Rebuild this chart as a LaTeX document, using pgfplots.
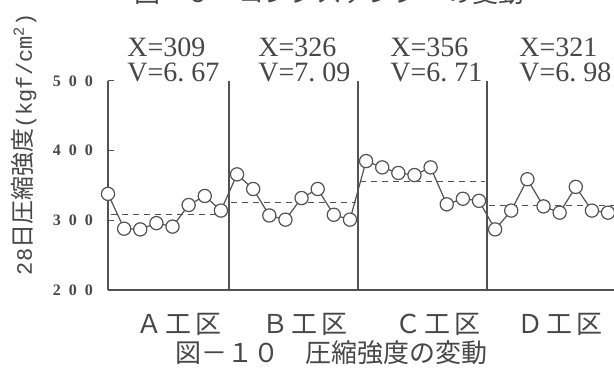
\documentclass[border=0pt]{standalone}
\usepackage{pgfplots}
\pgfplotsset{compat=1.18}
\usepackage{fontspec}
\setmainfont{Liberation Serif}
\newfontfamily\jp{Noto Sans CJK JP}
\newfontfamily\mono{Liberation Mono}
\definecolor{ink}{gray}{0.28}
\definecolor{pen}{gray}{0.32}

% 28-day compressive strength, 8 specimens per work section (A-D)
\pgfplotstableread{
x y
0  338
1  288
2  287
3  296
4  291
5  322
6  335
7  314
8  366
9  345
10 307
11 301
12 332
13 345
14 308
15 301
16 385
17 376
18 368
19 365
20 376
21 323
22 331
23 328
24 287
25 314
26 359
27 320
28 311
29 348
30 314
31 311
}\strength

\begin{document}
\begin{tikzpicture}
\path[use as bounding box] (0,0) rectangle (307pt,187pt);

\begin{axis}[
  at={(54pt,42pt)}, anchor=south west, scale only axis,
  width=253pt, height=104.5pt,
  xmin=0, xmax=31.37, ymin=200, ymax=500,
  axis x line*=bottom, axis y line*=left,
  axis line style={pen, line width=0.6pt, -},
  xtick=\empty,
  extra x ticks={7.5,15.5,23.5},
  extra x tick labels={},
  extra x tick style={grid=major, major grid style={pen, line width=0.6pt, solid}, major tick length=0pt},
  ytick={200,300,400,500},
  yticklabels={2\,\,\,0\,\,\,0, 3\,\,\,0\,\,\,0, 4\,\,\,0\,\,\,0, 5\,\,\,0\,\,\,0},
  tick align=inside, major tick length=3pt,
  tick style={pen, line width=0.5pt},
  yticklabel style={font=\fontsize{8}{8}\selectfont\bfseries, text=ink, xshift=-4pt},
  clip=false,
]
% section means
\addplot[pen, line width=0.5pt, dash pattern=on 3pt off 2.5pt] coordinates {(0.2,309) (7.4,309)};
\addplot[pen, line width=0.5pt, dash pattern=on 3pt off 2.5pt] coordinates {(7.6,326) (15.4,326)};
\addplot[pen, line width=0.5pt, dash pattern=on 3pt off 2.5pt] coordinates {(15.6,356) (23.4,356)};
\addplot[pen, line width=0.5pt, dash pattern=on 3pt off 2.5pt] coordinates {(23.6,321) (31.37,321)};
% individual results
\addplot[pen, line width=0.6pt, mark=*, mark size=3.3pt,
  mark options={fill=white, draw=pen, solid, line width=0.6pt}] table[x=x, y=y] {\strength};
\end{axis}

\begin{scope}[x=0.5pt, y=-0.5pt, shift={(0,187pt)}, text=ink]
  % statistics per section
  \foreach \xx/\mm/\vv in {127/309/6.\ 67, 258/326/7.\ 09, 390/356/6.\ 71, 519/321/6.\ 98}{
    \node[anchor=west, inner sep=0pt, text height=9.5pt, text depth=0pt, font=\fontsize{14}{14}\selectfont] at (\xx,47) {X=\mm};
    \node[anchor=west, inner sep=0pt, text height=9.5pt, text depth=0pt, font=\fontsize{14}{14}\selectfont] at (\xx,72) {V=\vv};
  }
  % section names
  \node[font=\jp\fontsize{13}{13}\selectfont] at (179,324) {Ａ\hspace{2pt}工\hspace{2pt}区};
  \node[font=\jp\fontsize{13}{13}\selectfont] at (305,324) {Ｂ\hspace{2pt}工\hspace{2pt}区};
  \node[font=\jp\fontsize{13}{13}\selectfont] at (438,324) {Ｃ\hspace{2pt}工\hspace{2pt}区};
  \node[font=\jp\fontsize{13}{13}\selectfont] at (560,324) {Ｄ\hspace{2pt}工\hspace{2pt}区};
  % captions
  \node[font=\jp\fontsize{13}{13}\selectfont] at (331,353) {図－１０　圧縮強度の変動};
  \node[font=\jp\fontsize{13}{13}\selectfont] at (329,-7) {図－９　コンシステンシーの変動};
  % vertical axis title
  \node[rotate=90, inner sep=0pt] at (24,144)
    {{\mono\fontsize{11}{11}\selectfont 28}{\jp\fontsize{12}{12}\selectfont 日圧縮強度}{\mono\fontsize{11}{11}\selectfont (kgf/cm\textsuperscript{2})}};
\end{scope}
\end{tikzpicture}
\end{document}
